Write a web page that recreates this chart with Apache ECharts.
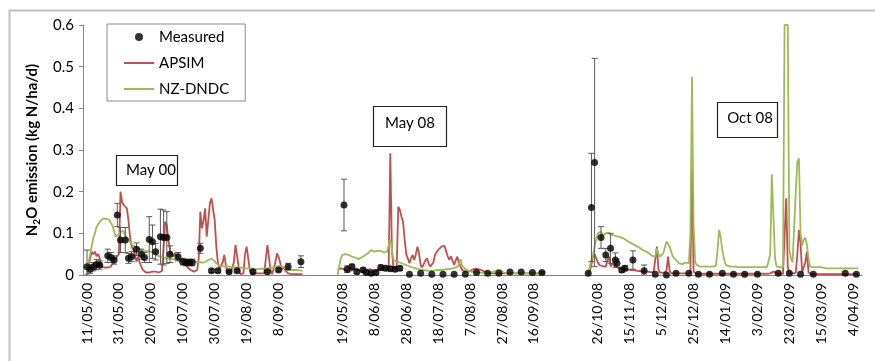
<!DOCTYPE html>
<html><head><meta charset="utf-8">
<script src="https://cdn.jsdelivr.net/npm/echarts@6/dist/echarts.min.js"></script>
<style>html,body{margin:0;padding:0;background:#fff}#c{width:875px;height:361px}</style>
</head><body><div id="c"></div><script>
// ---- data ----
const yTickLabels = ['0','0.1','0.2','0.3','0.4','0.5','0.6'];
const seg1Start = [2000, 5, 11];
const seg2Start = [2008, 5, 16];
const seg3Start = [2008, 10, 20];
const leadBlank = 2, gap12 = 21, gap23 = 26, tailBlank = 2;

const apsim1 = [0,0.02,0.04,0.056,0.05,0.056,0.045,0.05,0.04,0.02,
0.02,0.018,0.02,0.018,0.02,0.02,0.022,0.035,0.04,0.045,
0.05,0.2,0.175,0.168,0.172,0.16,0.13,0.09,0.068,0.06,
0.05,0.032,0.044,0.03,0.02,0.012,0.008,0.006,0.008,0.006,
0.008,0.008,0.006,0.008,0.008,0.006,0.008,0.01,0.012,0.128,
0.12,0.084,0.06,0.05,0.044,0.052,0.056,0.04,0.032,0.036,
0.04,0.03,0.024,0.018,0.014,0.012,0.008,0.008,0.01,0.012,
0.04,0.152,0.112,0.13,0.16,0.092,0.132,0.172,0.184,0.18,
0.132,0.068,0.03,0.015,0.012,0.03,0.048,0.024,0.004,0.01,
0.004,0.004,0.03,0.072,0.07,0.02,0.002,0.004,0.004,0.05,
0.068,0.064,0.012,0.002,0.002,0.004,0.004,0.004,0.004,0.004,
0.004,0.004,0.004,0.072,0.068,0.012,0.002,0,0.03,0.052,
0.044,0.03,0.012,0.02,0.012,0.008,0.004,0.002,0.002,0.002,
0.002,0.002,0.002,0.002,0.002,0.002];
const dndc1 = [0,0.03,0.05,0.07,0.09,0.1,0.115,0.122,0.128,0.132,
0.135,0.136,0.135,0.134,0.132,0.128,0.118,0.105,0.092,0.088,
0.098,0.104,0.102,0.105,0.094,0.09,0.085,0.08,0.074,0.07,
0.068,0.066,0.064,0.062,0.06,0.06,0.058,0.057,0.057,0.056,
0.056,0.054,0.052,0.05,0.047,0.045,0.044,0.043,0.042,0.041,
0.04,0.04,0.039,0.039,0.038,0.038,0.037,0.037,0.036,0.036,
0.035,0.035,0.034,0.034,0.034,0.033,0.033,0.032,0.032,0.031,
0.031,0.03,0.03,0.03,0.031,0.033,0.036,0.038,0.039,0.037,
0.033,0.028,0.025,0.022,0.022,0.021,0.021,0.02,0.02,0.02,
0.019,0.019,0.019,0.018,0.018,0.018,0.017,0.017,0.017,0.016,
0.016,0.016,0.015,0.015,0.015,0.014,0.014,0.014,0.014,0.015,
0.015,0.015,0.015,0.016,0.016,0.017,0.018,0.019,0.02,0.021,
0.022,0.021,0.02,0.018,0.016,0.015,0.014,0.013,0.013,0.012,
0.012,0.012,0.011,0.011,0.01,0.01];
const measured1 = [[0,0.02,0.04],[2,0.014,0.01],[4,0.02,0.01],[6,0.025,0.012],[8,0.024,0.01],
[13,0.046,0.016],[15,0.042,0.012],[17,0.036,0.01],[19,0.144,0.028],[21,0.084,0.03],[24,0.084,0.03],
[26,0.04,0.012],[28,0.044,0.012],[31,0.062,0.015],[34,0.05,0.012],[36,0.042,0.012],[39,0.085,0.055],
[41,0.08,0.04],[43,0.056,0.02],[46,0.092,0.066],[48,0.09,0.066],[50,0.09,0.062],[52,0.05,0.02],
[57,0.044,0.01],[60,0.032,0.008],[62,0.03,0.008],[64,0.03,0.008],[66,0.03,0.008],[71,0.064,0.012],
[78,0.01,0.004],[82,0.01,0.004],[89,0.008,0.003],[94,0.01,0.003],[104,0.008,0.003],[113,0.008,0.003],
[120,0.012,0.004],[126,0.02,0.008],[134,0.032,0.014]];

const apsim2 = [0.012,0.014,0.016,0.016,0.014,0.012,0.01,0.01,0.01,0.012,
0.013,0.014,0.014,0.012,0.01,0.008,0.008,0.01,0.012,0.013,
0.014,0.013,0.012,0.011,0.01,0.012,0.014,0.015,0.016,0.017,
0.018,0.02,0.02,0.292,0.06,0.016,0.016,0.016,0.164,0.156,
0.14,0.128,0.084,0.05,0.04,0.028,0.04,0.048,0.036,0.05,
0.068,0.052,0.025,0.018,0.016,0.035,0.04,0.028,0.02,0.016,
0.03,0.048,0.055,0.06,0.064,0.068,0.07,0.07,0.056,0.045,
0.036,0.045,0.048,0.024,0.035,0.044,0.03,0.02,0.012,0.008,
0.008,0.008,0.008,0.01,0.012,0.014,0.015,0.016,0.014,0.012,
0.012,0.01,0.008,0.006,0.005,0.004,0.004,0.004,0.004,0.004,
0.004,0.004,0.004,0.004,0.004,0.004,0.004,0.004,0.004,0.004,
0.004,0.004,0.004,0.004,0.004,0.004,0.004,0.004,0.004,0.004,
0.004,0.004,0.004,0.004,0.004,0.004,0.004,0.004,0.004,0.004,
0.003];
const dndc2 = [0,0.02,0.04,0.048,0.05,0.05,0.05,0.048,0.046,0.044,
0.043,0.042,0.04,0.038,0.038,0.042,0.044,0.047,0.05,0.052,
0.056,0.06,0.058,0.056,0.056,0.058,0.06,0.058,0.056,0.054,
0.055,0.056,0.058,0.086,0.06,0.036,0.034,0.032,0.031,0.03,
0.028,0.027,0.025,0.024,0.022,0.021,0.02,0.018,0.017,0.016,
0.015,0.014,0.013,0.012,0.012,0.011,0.01,0.01,0.01,0.01,
0.011,0.011,0.011,0.012,0.012,0.012,0.013,0.013,0.013,0.014,
0.014,0.015,0.016,0.017,0.018,0.02,0.025,0.038,0.022,0.018,
0.014,0.011,0.01,0.009,0.008,0.007,0.007,0.006,0.006,0.005,
0.005,0.005,0.005,0.005,0.005,0.006,0.006,0.007,0.008,0.01,
0.012,0.013,0.012,0.008,0.006,0.005,0.004,0.004,0.004,0.004,
0.004,0.004,0.004,0.004,0.004,0.004,0.004,0.004,0.004,0.004,
0.004,0.004,0.004,0.003,0.003,0.003,0.003,0.003,0.003,0.003,
0.003];
const measured2 = [[4,0.168,0.062],[6,0.014,0.008],[9,0.02,0.006],[12,0.008,0.005],[16,0.012,0.005],
[18,0.006,0.004],[21,0.004,0.003],[24,0.006,0.004],[27,0.018,0.006],[30,0.016,0.005],[33,0.015,0.005],
[36,0.014,0.005],[39,0.016,0.005],[45,0.002,0],[52,0.004,0],[59,0.002,0],[66,0.002,0],[73,0.002,0],
[80,0.002,0],[87,0.006,0],[94,0.004,0],[101,0.004,0],[108,0.007,0],[115,0.007,0],[122,0.006,0],[128,0.006,0.002]];

const apsim3 = [0,0.01,0.024,0.045,0.05,0.04,0.03,0.024,0.022,0.021,
0.02,0.02,0.035,0.044,0.02,0.028,0.032,0.02,0.018,0.017,
0.016,0.016,0.015,0.015,0.014,0.013,0.012,0.012,0.011,0.011,
0.01,0.01,0.01,0.009,0.009,0.009,0.008,0.008,0.008,0.007,
0.007,0.007,0.01,0.068,0.012,0.006,0.005,0.005,0.006,0.01,
0.044,0.01,0.004,0.004,0.004,0.004,0.004,0.004,0.004,0.004,
0.004,0.004,0.004,0.004,0.005,0.264,0.008,0.004,0.003,0.003,
0.003,0.003,0.003,0.003,0.003,0.003,0.003,0.003,0.003,0.003,
0.003,0.003,0.003,0.003,0.003,0.003,0.003,0.003,0.003,0.003,
0.003,0.003,0.003,0.003,0.003,0.003,0.003,0.003,0.003,0.003,
0.003,0.003,0.003,0.003,0.003,0.003,0.003,0.003,0.003,0.003,
0.003,0.003,0.003,0.003,0.004,0.005,0.008,0.006,0.004,0.003,
0.003,0.003,0.003,0.005,0.184,0.02,0.005,0.004,0.004,0.004,
0.005,0.05,0.108,0.075,0.006,0.004,0.03,0.056,0.006,0.003,
0.002,0.002,0.002,0.002,0.002,0.002,0.002,0.002,0.002,0.002,
0.002,0.002,0.002,0.002,0.002,0.002,0.002,0.002,0.002,0.002,
0.002,0.002,0.002,0.002,0.002,0.002,0.002,0.002,0.002,0.002];
const dndc3 = [0.004,0.02,0.036,0.05,0.068,0.085,0.1,0.104,0.104,0.096,
0.098,0.1,0.103,0.102,0.097,0.096,0.095,0.094,0.093,0.092,
0.091,0.09,0.088,0.085,0.083,0.08,0.078,0.076,0.074,0.072,
0.07,0.068,0.066,0.063,0.06,0.058,0.057,0.056,0.052,0.048,
0.046,0.044,0.044,0.064,0.05,0.044,0.048,0.052,0.066,0.08,
0.075,0.068,0.056,0.044,0.04,0.036,0.032,0.028,0.027,0.026,
0.028,0.03,0.029,0.028,0.1,0.476,0.12,0.03,0.024,0.021,
0.02,0.02,0.02,0.02,0.02,0.02,0.02,0.02,0.02,0.02,
0.022,0.06,0.108,0.09,0.06,0.04,0.025,0.022,0.021,0.02,
0.02,0.02,0.02,0.02,0.019,0.019,0.019,0.019,0.019,0.019,
0.019,0.019,0.019,0.019,0.019,0.019,0.019,0.019,0.019,0.019,
0.019,0.019,0.019,0.02,0.05,0.242,0.14,0.04,0.02,0.02,
0.019,0.019,0.019,0.6,0.6,0.6,0.06,0.04,0.03,0.03,
0.2,0.272,0.28,0.1,0.07,0.085,0.09,0.072,0.04,0.02,
0.019,0.019,0.019,0.019,0.019,0.019,0.018,0.018,0.017,0.016,
0.016,0.016,0.016,0.016,0.016,0.016,0.016,0.016,0.016,0.016,
0.016,0.016,0.016,0.016,0.016,0.016,0.016,0.016,0.016,0.016];
const measured3 = [[0,0.004,0],[2,0.162,0.13],[4,0.27,0.25],[8,0.09,0.026],[11,0.048,0.016],[14,0.064,0.036],
[17,0.036,0.017],[18,0.028,0.01],[21,0.012,0.006],[23,0.016,0.006],[28,0.036,0.022],[35,0.01,0.014],
[42,0.002,0],[49,0,0],[55,0.004,0],[63,0.004,0],[69,0.002,0],[76,0.002,0],[84,0.004,0],[91,0.002,0],
[98,0.002,0],[106,0.002,0],[119,0.004,0],[126,0.004,0],[133,0.002,0],[141,0.002,0],[161,0.004,0],[168,0.002,0]];

// ---- build category axis ----
function fmt(d){return d.getUTCDate()+'/'+String(d.getUTCMonth()+1).padStart(2,'0')+'/'+String(d.getUTCFullYear()%100).padStart(2,'0');}
function days(start,n){const out=[];for(let k=0;k<n;k++){out.push(fmt(new Date(Date.UTC(start[0],start[1]-1,start[2]+k))));}return out;}
function blanks(n){return new Array(n).fill('');}
const off1 = leadBlank;
const off2 = off1 + apsim1.length + gap12;
const off3 = off2 + apsim2.length + gap23;
const categories = [].concat(blanks(leadBlank), days(seg1Start, apsim1.length), blanks(gap12),
  days(seg2Start, apsim2.length), blanks(gap23), days(seg3Start, apsim3.length), blanks(tailBlank));
const every20 = (i) => i >= off1 && (i - off1) % 20 === 0;

const toXY = (arr, off) => arr.map((v,k)=>[off+k, v]);
const meas = [].concat(measured1.map(p=>[off1+p[0],p[1],p[2]]), measured2.map(p=>[off2+p[0],p[1],p[2]]), measured3.map(p=>[off3+p[0],p[1],p[2]]));

const RED = '#c0504d', GREEN = '#9bbb59';
const FONT = 'Lato';
function lineSeries(name, arr, off, color){
  return {name, type:'line', data: toXY(arr, off), symbol:'none', clip:true, z:2,
    lineStyle:{color, width:1.8}, itemStyle:{color}};
}

const chart = echarts.init(document.getElementById('c'));
chart.setOption({
  animation:false,
  backgroundColor:'#fff',
  textStyle:{fontFamily:FONT},
  grid:{left:83, right:13, top:25, bottom:86, containLabel:false, outerBoundsMode:'none'},
  legend:{orient:'vertical', left:107, top:24, padding:[4,16,3,16], itemGap:8, itemWidth:30, itemHeight:8, itemTextGap:4,
    borderColor:'#8c8c8c', borderWidth:1, textStyle:{fontSize:15, fontFamily:FONT, color:'#000', lineHeight:18},
    data:[{name:'Measured', icon:'circle'},
      {name:'APSIM', itemStyle:{opacity:0}},
      {name:'NZ-DNDC', itemStyle:{opacity:0}}]},
  xAxis:{type:'category', data:categories, boundaryGap:true,
    axisLine:{lineStyle:{color:'#868686', width:1}},
    axisTick:{interval:every20, alignWithLabel:true, length:5, lineStyle:{color:'#868686'}},
    axisLabel:{interval:every20, rotate:90, fontSize:14, fontFamily:FONT, color:'#000', margin:8},
    splitLine:{show:false}},
  yAxis:{type:'value', min:0, max:0.6, interval:0.1,
    axisLine:{show:true, lineStyle:{color:'#868686'}},
    axisTick:{show:true, length:4, lineStyle:{color:'#868686'}},
    axisLabel:{fontSize:15, fontFamily:FONT, color:'#000', margin:9, formatter:(v)=>yTickLabels[Math.round(v*10)]},
    splitLine:{show:false},
    name:'{n|N}{s|2}{n|O emission (kg N/ha/d)}', nameLocation:'middle', nameRotate:90, nameGap:40,
    nameTextStyle:{rich:{n:{fontSize:15, fontWeight:'bold', fontFamily:FONT, color:'#000', lineHeight:20},
      s:{fontSize:10, fontWeight:'bold', fontFamily:FONT, color:'#000', verticalAlign:'bottom', lineHeight:12}}}},
  series:[
    {name:'errbars', type:'custom', data:meas.filter(p=>p[2]>0), z:3, clip:true, silent:true,
      encode:{x:0, y:1},
      renderItem:function(params, api){
        const x=api.value(0), v=api.value(1), e=api.value(2);
        const t=api.coord([x, v+e]), b=api.coord([x, Math.max(0, v-e)]);
        const cw=3, st={stroke:'#595959', lineWidth:1};
        return {type:'group', children:[
          {type:'line', shape:{x1:t[0],y1:t[1],x2:b[0],y2:b[1]}, style:st},
          {type:'line', shape:{x1:t[0]-cw,y1:t[1],x2:t[0]+cw,y2:t[1]}, style:st},
          {type:'line', shape:{x1:b[0]-cw,y1:b[1],x2:b[0]+cw,y2:b[1]}, style:st}]};
      }},
    lineSeries('APSIM', apsim1, off1, RED),
    lineSeries('APSIM', apsim2, off2, RED),
    lineSeries('APSIM', apsim3, off3, RED),
    lineSeries('NZ-DNDC', dndc1, off1, GREEN),
    lineSeries('NZ-DNDC', dndc2, off2, GREEN),
    lineSeries('NZ-DNDC', dndc3, off3, GREEN),
    {name:'Measured', type:'scatter', data:meas.map(p=>[p[0],p[1]]), symbol:'circle', symbolSize:7, z:4,
      itemStyle:{color:'#000'}}
  ],
  graphic:[
    {type:'rect', left:7, top:8, shape:{width:1000, height:1000}, style:{fill:null, stroke:'#c0c0c0', lineWidth:2}, silent:true, z:-1},
    {type:'group', children:[
      {type:'rect', shape:{x:116.5, y:155.5, width:61, height:30}, style:{fill:'#fff', stroke:'#222', lineWidth:1.2}},
      {type:'text', x:151, y:170.5, style:{text:'May 00', fill:'#000', font:'15px Lato', align:'center', verticalAlign:'middle'}}]},
    {type:'group', children:[
      {type:'rect', shape:{x:373.5, y:106.5, width:73, height:40}, style:{fill:'#fff', stroke:'#222', lineWidth:1.2}},
      {type:'text', x:410, y:123, style:{text:'May 08', fill:'#000', font:'15px Lato', align:'center', verticalAlign:'middle'}}]},
    {type:'group', children:[
      {type:'rect', shape:{x:717.5, y:102.5, width:60, height:35}, style:{fill:'#fff', stroke:'#222', lineWidth:1.2}},
      {type:'text', x:750, y:118.5, style:{text:'Oct 08', fill:'#000', font:'15px Lato', align:'center', verticalAlign:'middle'}}]}
  ]
});
</script></body></html>
